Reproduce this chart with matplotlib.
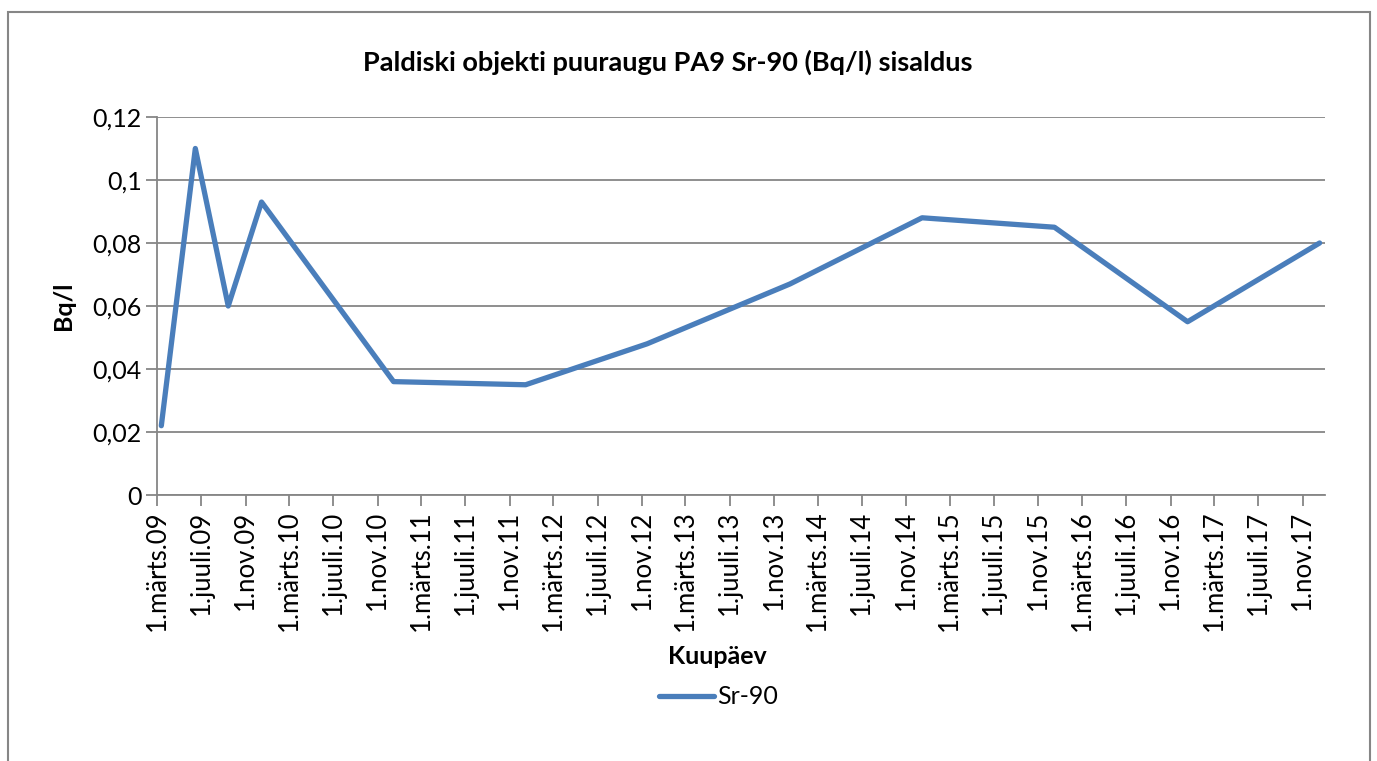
import datetime as dt

import matplotlib
matplotlib.use("Agg")
import matplotlib.pyplot as plt
from matplotlib.patches import Rectangle

# data
sample_dates = ["2009-03-13", "2009-06-15", "2009-09-14", "2009-12-15",
                "2010-12-15", "2011-12-15", "2012-11-15", "2013-12-15",
                "2014-12-15", "2015-12-16", "2016-12-18", "2017-12-18"]
sr90_values = [0.022, 0.110, 0.060, 0.093,
               0.036, 0.035, 0.048, 0.067,
               0.088, 0.085, 0.055, 0.080]

month_names = {3: "märts", 7: "juuli", 11: "nov"}
y_ticks = [0, 0.02, 0.04, 0.06, 0.08, 0.10, 0.12]

title = "Paldiski objekti puuraugu PA9 Sr-90 (Bq/l) sisaldus"
xlabel = "Kuupäev"
ylabel = "Bq/l"
series_name = "Sr-90"

line_color = "#4A7EBB"
grid_color = "#868686"

plt.rcParams["font.family"] = ["Lato", "DejaVu Sans"]

dates = [dt.datetime.strptime(d, "%Y-%m-%d") for d in sample_dates]

fig = plt.figure(figsize=(13.77, 7.61), dpi=100)
ax = fig.add_axes([0.114, 0.3495, 0.848, 0.4968])

# outer chart frame
fig.patches.append(Rectangle((8 / 1377, -0.05), 1362 / 1377, 1 - 12 / 761 + 0.05,
                             transform=fig.transFigure, fill=False,
                             edgecolor=grid_color, lw=1.5))

ax.plot(dates, sr90_values, color=line_color, lw=3.8, label=series_name,
        solid_joinstyle="round", solid_capstyle="round", zorder=5, clip_on=False)

# x axis: ticks every 4 months starting 1 March 2009
tick_dates = []
for year in range(2009, 2018):
    for m in (3, 7, 11):
        tick_dates.append(dt.datetime(year, m, 1))
ax.set_xlim(dt.datetime(2009, 3, 1), dt.datetime(2018, 1, 1))
ax.set_xticks(tick_dates)
ax.set_xticklabels([f"1.{month_names[d.month]}.{d.year % 100:02d}" for d in tick_dates],
                   rotation=90, fontsize=18.5)

ax.set_ylim(0, 0.12)
ax.set_yticks(y_ticks)
ax.set_yticklabels([("%g" % v).replace(".", ",") for v in y_ticks], fontsize=18)

ax.grid(True, axis="y", color=grid_color, lw=1.3, zorder=1)
for side in ("top", "right"):
    ax.spines[side].set_visible(False)
for side in ("left", "bottom"):
    ax.spines[side].set_color(grid_color)
    ax.spines[side].set_linewidth(1.3)
ax.tick_params(axis="both", color=grid_color, width=1.3, length=8, direction="out", pad=3)

fig.text(668 / 1377, 1 - 62 / 761, title, fontsize=19.5, fontweight="bold",
         ha="center", va="center")
ax.set_xlabel(xlabel, fontsize=18, fontweight="bold")
ax.xaxis.set_label_coords(0.480, -0.397)
ax.set_ylabel(ylabel, fontsize=18, fontweight="bold")
ax.yaxis.set_label_coords(-0.070, 0.5)

leg = ax.legend(loc="center", bbox_to_anchor=(0.481, -0.534), frameon=False,
                fontsize=18, handlelength=2.2, handletextpad=0.1)

plt.savefig("out.png", dpi=100)
